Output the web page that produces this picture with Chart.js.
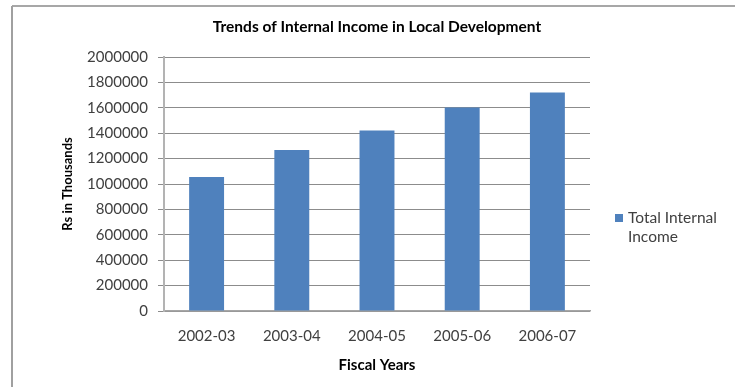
<!DOCTYPE html>
<html>
<head>
<meta charset="utf-8">
<title>Trends of Internal Income in Local Development</title>
<script src="https://cdn.jsdelivr.net/npm/chart.js@4.4.1/dist/chart.umd.min.js"></script>
<style>
  html, body { margin: 0; padding: 0; background: #fff; }
  #wrap { width: 735px; height: 387px; }
</style>
</head>
<body>
<div id="wrap"><canvas id="incomeChart" width="735" height="387"></canvas></div>
<script>
// data
const fiscalYears = ['2002-03', '2003-04', '2004-05', '2005-06', '2006-07'];
const internalIncome = [1055000, 1268000, 1421000, 1602000, 1720000];
const yTickValues = [0, 200000, 400000, 600000, 800000, 1000000, 1200000, 1400000, 1600000, 1800000, 2000000];
const seriesLabel = 'Total Internal Income';
const legendLines = ['Total Internal', 'Income'];

const barBlue = '#4f81bd';
const textGrey = '#404040';
const fontFamily = 'Lato, "Open Sans", sans-serif';

// outer frame (top and left edges only)
const framePlugin = {
    id: 'frame',
    beforeDraw(chart) {
        const ctx = chart.ctx;
        ctx.save();
        ctx.fillStyle = '#fff';
        ctx.fillRect(0, 0, chart.width, chart.height);
        ctx.strokeStyle = '#8a8a8a';
        ctx.lineWidth = 1.5;
        ctx.beginPath();
        ctx.moveTo(12, 6);
        ctx.lineTo(chart.width, 6);
        ctx.stroke();
        ctx.strokeStyle = '#a0a0a0';
        ctx.lineWidth = 2;
        ctx.beginPath();
        ctx.moveTo(12, 6);
        ctx.lineTo(12, chart.height);
        ctx.stroke();
        ctx.restore();
    }
};

// legend with wrapped text on the right
const sideLegend = {
    id: 'sideLegend',
    afterDraw(chart) {
        const ctx = chart.ctx;
        const ds = chart.data.datasets[0];
        ctx.save();
        ctx.fillStyle = ds.backgroundColor;
        ctx.fillRect(615, 214, 8, 8);
        ctx.fillStyle = textGrey;
        ctx.font = '15.5px ' + fontFamily;
        ctx.textBaseline = 'middle';
        ctx.textAlign = 'left';
        legendLines.forEach((line, i) => {
            ctx.fillText(line, 628, 218 + i * 19);
        });
        ctx.restore();
    }
};

const ctx = document.getElementById('incomeChart').getContext('2d');
new Chart(ctx, {
    type: 'bar',
    data: {
        labels: fiscalYears,
        datasets: [{
            label: seriesLabel,
            data: internalIncome,
            backgroundColor: barBlue,
            borderWidth: 0,
            barPercentage: 0.41,
            categoryPercentage: 1.0
        }]
    },
    options: {
        responsive: false,
        animation: false,
        layout: {
            padding: { left: 0, right: 145, top: 0, bottom: 0 }
        },
        scales: {
            x: {
                afterFit(scale) { scale.height = 76; },
                grid: { display: false },
                border: { display: true, color: '#a6a6a6', width: 1.5 },
                ticks: {
                    color: textGrey,
                    padding: 8,
                    font: { family: fontFamily, size: 15 }
                },
                title: {
                    display: true,
                    text: 'Fiscal Years',
                    color: '#000',
                    font: { family: fontFamily, size: 15, weight: 'bold' },
                    padding: { top: 0, bottom: 13 }
                }
            },
            y: {
                min: 0,
                max: 2000000,
                afterFit(scale) { scale.width = 164; },
                afterBuildTicks(scale) {
                    scale.ticks = yTickValues.map(v => ({ value: v }));
                },
                grid: {
                    color: '#8c8c8c',
                    lineWidth: 1,
                    drawTicks: true,
                    tickLength: 6
                },
                border: { display: true, color: '#b3b3b3', width: 2 },
                ticks: {
                    color: textGrey,
                    padding: 10,
                    font: { family: fontFamily, size: 15 },
                    callback: value => String(value)
                },
                title: {
                    display: true,
                    text: 'Rs in Thousands',
                    color: '#000',
                    font: { family: fontFamily, size: 13, weight: 'bold' },
                    padding: { top: 60, bottom: 0 }
                }
            }
        },
        plugins: {
            legend: { display: false },
            tooltip: { enabled: false },
            title: {
                display: true,
                fullSize: false,
                text: 'Trends of Internal Income in Local Development',
                color: '#000',
                font: { family: fontFamily, size: 15.5, weight: 'bold' },
                padding: { top: 18, bottom: 20.4 }
            }
        }
    },
    plugins: [framePlugin, sideLegend]
});
</script>
</body>
</html>
